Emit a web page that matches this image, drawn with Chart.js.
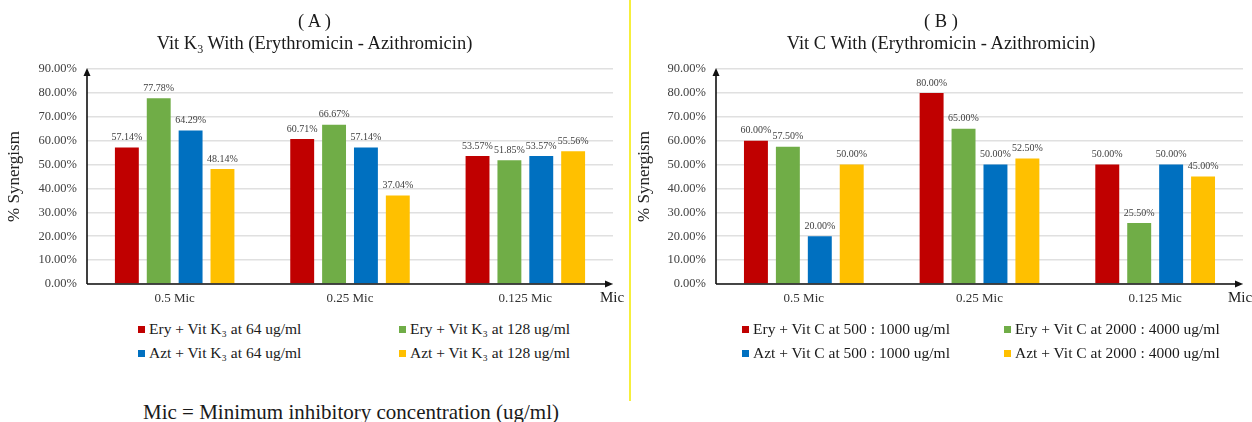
<!DOCTYPE html>
<html>
<head>
<meta charset="utf-8">
<script src="https://cdn.jsdelivr.net/npm/chart.js@4/dist/chart.umd.min.js"></script>
<style>
  html, body { margin: 0; padding: 0; background: #fff; }
  body { width: 1252px; height: 422px; position: relative; overflow: hidden;
         font-family: "Liberation Serif", "DejaVu Serif", serif; color: #1a1a1a; }
  .panel { position: absolute; top: 0; }
  .panel canvas { position: absolute; left: 0; top: 0; }
  .ttl { position: absolute; width: 100%; text-align: center; font-size: 18.5px; line-height: 22px; white-space: nowrap; }
  .ttl sub { font-size: 12px; vertical-align: -4px; line-height: 0; }
  .mic { position: absolute; font-size: 15px; line-height: 18px; top: 288px; }
  .leg { position: absolute; font-size: 15.5px; line-height: 18px; white-space: nowrap; }
  .leg i { position: absolute; left: -11px; top: 6px; width: 7px; height: 7px; }
  .divider { position: absolute; left: 629px; top: 0; width: 2px; height: 401px; background: #f6ef3c; }
  .foot { position: absolute; left: 143px; top: 400px; font-size: 21px; line-height: 24px; white-space: nowrap; }
</style>
</head>
<body>
<div class="panel" id="panelA" style="left:0;width:629px;height:320px;">
  <canvas id="chartA" width="629" height="310"></canvas>
  <div class="ttl" style="top:10px;">( A )</div>
  <div class="ttl" style="top:32px;">Vit K<sub>3</sub> With (Erythromicin - Azithromicin)</div>
  <div class="mic" style="left:600px;">Mic</div>
</div>
<div class="divider"></div>
<div class="panel" id="panelB" style="left:630px;width:622px;height:320px;">
  <canvas id="chartB" width="622" height="310"></canvas>
  <div class="ttl" style="top:10px;">( B )</div>
  <div class="ttl" style="top:32px;">Vit C With (Erythromicin - Azithromicin)</div>
  <div class="mic" style="left:598px;">Mic</div>
</div>
<div id="legends"></div>
<div class="foot">Mic = Minimum inhibitory concentration (ug/ml)</div>

<script>
// Categories (MIC fraction) shared by both panels
const categories = ['0.5 Mic', '0.25 Mic', '0.125 Mic'];

// Panel A: Vit K3 combinations (% synergism)
const k3Ery64  = [57.14, 60.71, 53.57];
const k3Ery128 = [77.78, 66.67, 51.85];
const k3Azt64  = [64.29, 57.14, 53.57];
const k3Azt128 = [48.14, 37.04, 55.56];

// Panel B: Vit C combinations (% synergism)
const cEry500  = [60.00, 80.00, 50.00];
const cEry2000 = [57.50, 65.00, 25.50];
const cAzt500  = [20.00, 50.00, 50.00];
const cAzt2000 = [50.00, 52.50, 45.00];

// Series names
const namesA = ['Ery + Vit K\u2083 at 64 ug/ml', 'Ery + Vit K\u2083 at 128 ug/ml',
                'Azt + Vit K\u2083 at 64 ug/ml', 'Azt + Vit K\u2083 at 128 ug/ml'];
const namesB = ['Ery + Vit C at 500 : 1000 ug/ml', 'Ery + Vit C at 2000 : 4000 ug/ml',
                'Azt + Vit C at 500 : 1000 ug/ml', 'Azt + Vit C at 2000 : 4000 ug/ml'];

// Y axis range and tick step (percent)
const yMax = 90;
const yStep = 10;

const palette = ['#c00000', '#70ad47', '#0070c0', '#ffc000'];
const SERIF = '"Liberation Serif", "DejaVu Serif", serif';

// Value labels above each bar
const barValueLabels = {
  id: 'barValueLabels',
  afterDatasetsDraw(chart) {
    const ctx = chart.ctx;
    ctx.save();
    ctx.font = '10px ' + SERIF;
    ctx.fillStyle = '#404040';
    ctx.textAlign = 'center';
    ctx.textBaseline = 'bottom';
    chart.data.datasets.forEach((ds, i) => {
      chart.getDatasetMeta(i).data.forEach((bar, j) => {
        ctx.fillText(ds.data[j].toFixed(2) + '%', bar.x, bar.y - 5);
      });
    });
    ctx.restore();
  }
};

// Axis lines with arrow heads
const arrowAxes = {
  id: 'arrowAxes',
  afterDraw(chart) {
    const { ctx, chartArea: a } = chart;
    ctx.save();
    ctx.strokeStyle = '#111';
    ctx.fillStyle = '#111';
    ctx.lineWidth = 1.6;
    ctx.beginPath();
    ctx.moveTo(a.left, a.bottom);
    ctx.lineTo(a.left, a.top + 4);
    ctx.moveTo(a.left, a.bottom);
    ctx.lineTo(a.right - 4, a.bottom);
    ctx.stroke();
    ctx.beginPath();
    ctx.moveTo(a.left, a.top - 1);
    ctx.lineTo(a.left - 3.5, a.top + 7);
    ctx.lineTo(a.left + 3.5, a.top + 7);
    ctx.closePath();
    ctx.fill();
    ctx.beginPath();
    ctx.moveTo(a.right, a.bottom);
    ctx.lineTo(a.right - 8, a.bottom - 3.5);
    ctx.lineTo(a.right - 8, a.bottom + 3.5);
    ctx.closePath();
    ctx.fill();
    ctx.restore();
  }
};

function makeChart(canvasId, series, names, yAxisWidth, padRight) {
  return new Chart(document.getElementById(canvasId), {
    type: 'bar',
    data: {
      labels: categories,
      datasets: series.map((vals, i) => ({
        label: names[i],
        data: vals,
        backgroundColor: palette[i],
        borderWidth: 0,
        categoryPercentage: 0.727,
        barPercentage: 0.75
      }))
    },
    options: {
      responsive: false,
      animation: false,
      devicePixelRatio: 1,
      layout: { padding: { top: 69, right: padRight, left: 0, bottom: 0 } },
      plugins: { legend: { display: false }, title: { display: false }, tooltip: { enabled: false } },
      scales: {
        x: {
          grid: { display: false, drawTicks: false },
          border: { display: false },
          ticks: { font: { family: SERIF, size: 13 }, color: '#333', padding: 7 },
          afterFit(scale) { scale.height = 26; }
        },
        y: {
          min: 0, max: yMax,
          grid: { color: '#e0e0e0', lineWidth: 1.5, drawTicks: false },
          border: { display: false },
          ticks: {
            stepSize: yStep,
            padding: 10,
            font: { family: SERIF, size: 12.5 },
            color: '#404040',
            callback: v => v.toFixed(2) + '%'
          },
          title: {
            display: true,
            text: '% Synergism',
            font: { family: SERIF, size: 17 },
            color: '#222',
            padding: { top: 4, bottom: 0 }
          },
          afterFit(scale) { scale.width = yAxisWidth; }
        }
      }
    },
    plugins: [barValueLabels, arrowAxes]
  });
}

makeChart('chartA', [k3Ery64, k3Ery128, k3Azt64, k3Azt128], namesA, 87, 16);
makeChart('chartB', [cEry500, cEry2000, cAzt500, cAzt2000], namesB, 86, 9);

// Two-column legends under each panel
const legendSpots = [
  { names: namesA, cols: [149, 410] },
  { names: namesB, cols: [753, 1015] }
];
const rowsTop = [320, 344];
const legendHost = document.getElementById('legends');
legendSpots.forEach(spot => {
  spot.names.forEach((name, i) => {
    const el = document.createElement('div');
    el.className = 'leg';
    el.style.left = spot.cols[i % 2] + 'px';
    el.style.top = rowsTop[Math.floor(i / 2)] + 'px';
    const sw = document.createElement('i');
    sw.style.background = palette[i];
    el.appendChild(sw);
    el.appendChild(document.createTextNode(name));
    legendHost.appendChild(el);
  });
});
</script>
</body>
</html>
